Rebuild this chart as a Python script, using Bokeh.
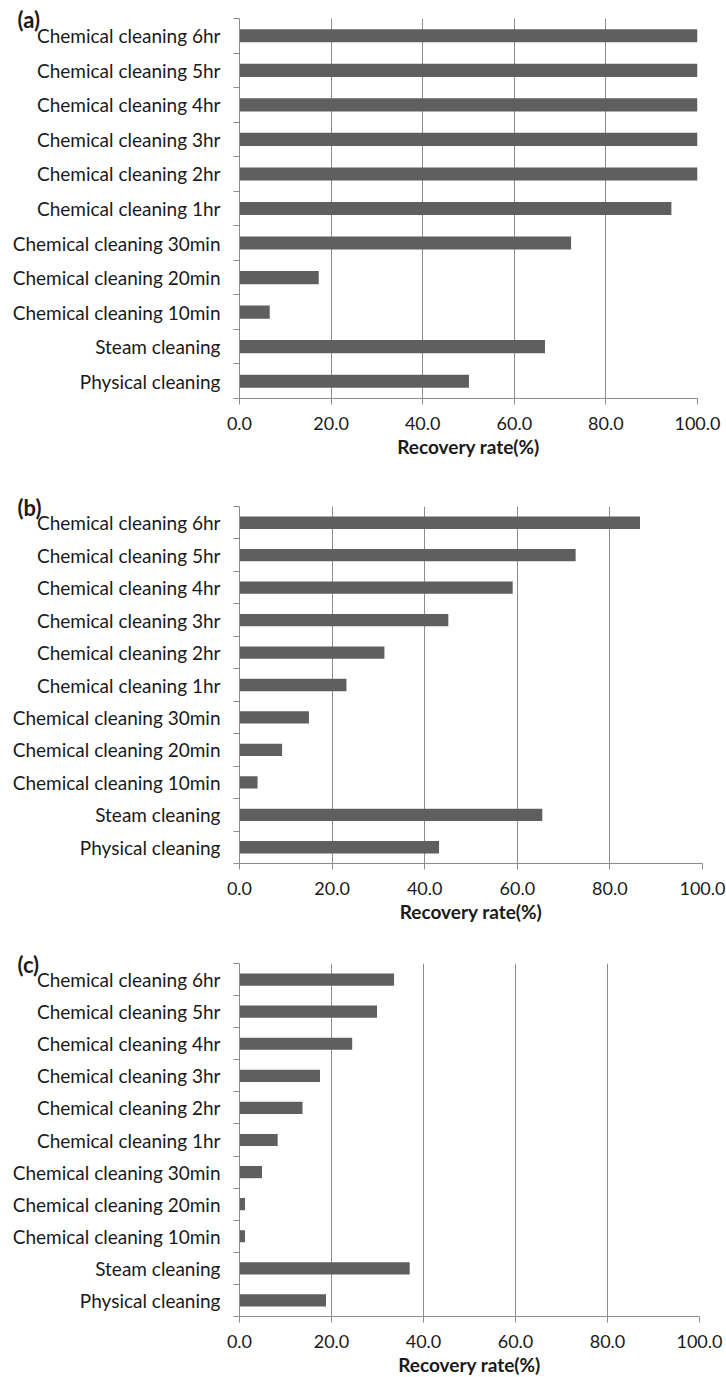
from bokeh.plotting import figure
from bokeh.layouts import column
from bokeh.models import FixedTicker, Title, Range1d, PrintfTickFormatter
from bokeh.embed import file_html
from bokeh.resources import INLINE

categories = ["Physical cleaning", "Steam cleaning", "Chemical cleaning 10min",
              "Chemical cleaning 20min", "Chemical cleaning 30min", "Chemical cleaning 1hr",
              "Chemical cleaning 2hr", "Chemical cleaning 3hr", "Chemical cleaning 4hr",
              "Chemical cleaning 5hr", "Chemical cleaning 6hr"]
values_a = [50.1, 66.7, 6.6, 17.3, 72.4, 94.3, 100.0, 100.0, 100.0, 100.0, 100.0]
values_b = [43.1, 65.4, 3.9, 9.2, 15.0, 23.1, 31.3, 45.1, 59.0, 72.6, 86.5]
values_c = [18.8, 37.0, 1.2, 1.2, 4.9, 8.3, 13.7, 17.5, 24.5, 29.9, 33.6]
panel_labels = ["(a)", "(b)", "(c)"]
x_ticks = [0, 20, 40, 60, 80, 100]
x_title = "Recovery rate(%)"

FONT = "Lato"
GRID = "#8c8c8c"
BAR = "#5f5f5f"
TXT = "#1a1a1a"
W = 726


def make_panel(vals, tag, height, top, left, fw, fh):
    n = len(categories)
    p = figure(width=W, height=height, output_backend="svg", toolbar_location=None,
               x_range=Range1d(0, 100), y_range=Range1d(-0.5, n - 0.5),
               min_border_top=top, min_border_bottom=height - top - fh,
               min_border_left=left, min_border_right=W - left - fw,
               frame_width=fw, frame_height=fh)
    p.outline_line_color = None
    ys = list(range(n))
    p.hbar(y=ys, right=vals, left=0, height=0.38, fill_color=BAR, line_color=None)

    # x axis
    p.xaxis.ticker = FixedTicker(ticks=x_ticks)
    p.xaxis.formatter = PrintfTickFormatter(format="%.1f")
    p.xaxis.axis_line_color = GRID
    p.xaxis.major_tick_line_color = GRID
    p.xaxis.major_tick_out = 6
    p.xaxis.major_tick_in = 0
    p.xaxis.minor_tick_line_color = None
    p.xaxis.major_label_text_font = FONT
    p.xaxis.major_label_text_font_size = "18px"
    p.xaxis.major_label_text_color = TXT
    p.xaxis.major_label_standoff = 12
    p.xaxis.axis_label = x_title
    p.xaxis.axis_label_text_font = FONT
    p.xaxis.axis_label_text_font_size = "19px"
    p.xaxis.axis_label_text_font_style = "bold"
    p.xaxis.axis_label_text_color = TXT
    p.xaxis.axis_label_standoff = 2

    # y axis: labels at centers, ticks at category boundaries
    p.yaxis.ticker = FixedTicker(ticks=ys, minor_ticks=[i - 0.5 for i in range(n + 1)])
    p.yaxis.major_label_overrides = {i: c for i, c in enumerate(categories)}
    p.yaxis.axis_line_color = GRID
    p.yaxis.major_tick_line_color = None
    p.yaxis.minor_tick_line_color = GRID
    p.yaxis.minor_tick_out = 6
    p.yaxis.minor_tick_in = 0
    p.yaxis.major_label_text_font = FONT
    p.yaxis.major_label_text_font_size = "19px"
    p.yaxis.major_label_text_color = TXT
    p.yaxis.major_label_standoff = 13

    p.xgrid.ticker = FixedTicker(ticks=x_ticks[1:])
    p.xgrid.grid_line_color = GRID
    p.ygrid.grid_line_color = None

    t = Title(text=tag, align="left", offset=-222, standoff=-29,
              text_font=FONT, text_font_size="22px", text_font_style="bold",
              text_color=TXT)
    p.add_layout(t, "above")
    return p


pa = make_panel(values_a, panel_labels[0], 470, 18, 239, 458, 380)
pb = make_panel(values_b, panel_labels[1], 455, 36, 237, 463, 357)
pc = make_panel(values_c, panel_labels[2], 450, 38, 238, 460, 353)

layout = column(pa, pb, pc, spacing=0)
open("out.html", "w").write(file_html(layout, INLINE))
